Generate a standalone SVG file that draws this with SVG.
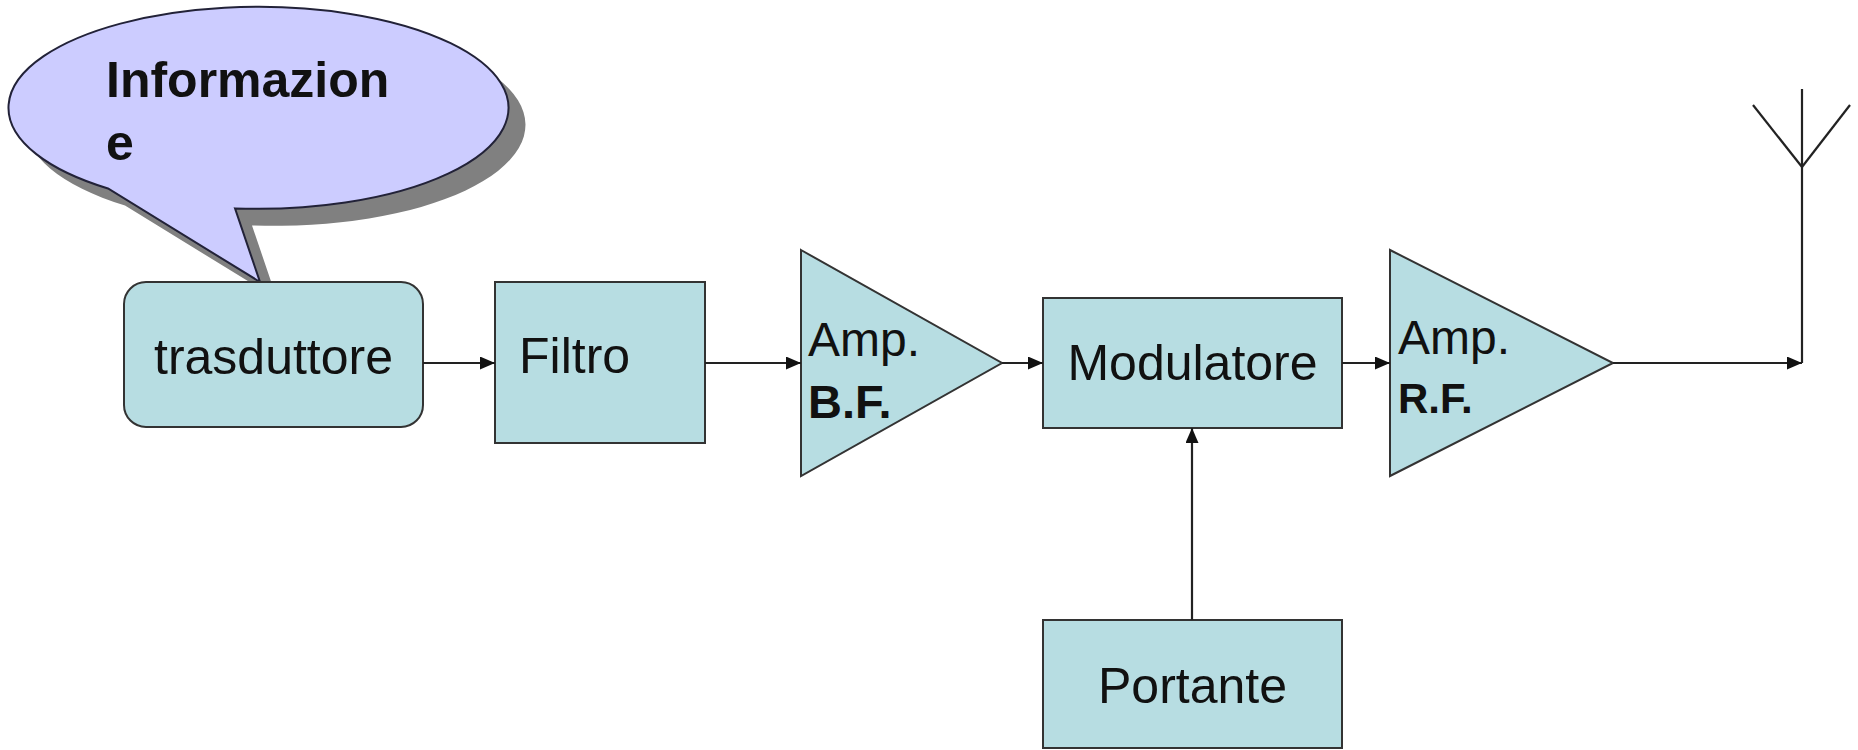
<svg xmlns="http://www.w3.org/2000/svg" width="1858" height="750" viewBox="0 0 1858 750">
<defs>
<style>
.box{fill:#B7DDE2;stroke:#333;stroke-width:2}
.t{font-family:"Liberation Sans",Arial,sans-serif;font-size:50px;fill:#111}
.b{font-family:"Liberation Sans",Arial,sans-serif;font-weight:bold;fill:#111}
.ln{stroke:#222;stroke-width:2.2;fill:none}
.arr{stroke:#222;stroke-width:2.2;fill:none;marker-end:url(#ah)}
</style>
<marker id="ah" viewBox="0 0 15 13" refX="15" refY="6.5" markerUnits="userSpaceOnUse" markerWidth="15" markerHeight="13" orient="auto">
<path d="M0,0 L15,6.5 L0,13 Z" fill="#111"/>
</marker>
</defs>
<rect width="1858" height="750" fill="#fff"/>
<g id="bubble">
<path d="M235,208.4 A250,101 0 1 0 108,188.5 L260,282 Z" fill="#808080" transform="translate(17,17)"/>
<path d="M235,208.4 A250,101 0 1 0 108,188.5 L260,282 Z" fill="#CCCCFF" stroke="#222238" stroke-width="2"/>
<text class="b" x="106" y="97" font-size="50">Informazion</text>
<text class="b" x="106" y="160" font-size="50">e</text>
</g>
<g id="trasduttore">
<rect class="box" x="124" y="282" width="299" height="145" rx="22"/>
<text class="t" x="273.5" y="374" text-anchor="middle">trasduttore</text>
</g>
<g id="filtro">
<rect class="box" x="495" y="282" width="210" height="161"/>
<text class="t" x="519" y="373">Filtro</text>
</g>
<g id="ampbf">
<polygon class="box" points="801,250 1002,363 801,476"/>
<text class="t" x="808" y="356" style="font-size:48px">Amp.</text>
<text class="b" x="808" y="418" style="font-size:47px">B.F.</text>
</g>
<g id="modulatore">
<rect class="box" x="1043" y="298" width="299" height="130"/>
<text class="t" x="1192.5" y="380" text-anchor="middle">Modulatore</text>
</g>
<g id="amprf">
<polygon class="box" points="1390,250 1613,363 1390,476"/>
<text class="t" x="1398" y="354" style="font-size:48px">Amp.</text>
<text class="b" x="1398" y="413" style="font-size:42px">R.F.</text>
</g>
<g id="portante">
<rect class="box" x="1043" y="620" width="299" height="128"/>
<text class="t" x="1192.5" y="703" text-anchor="middle">Portante</text>
</g>
<g id="antenna">
<line class="ln" x1="1802" y1="363" x2="1802" y2="89"/>
<line class="ln" x1="1802" y1="167" x2="1753" y2="105"/>
<line class="ln" x1="1802" y1="167" x2="1850" y2="105"/>
</g>
<g id="connectors">
<line class="arr" x1="423" y1="363" x2="495" y2="363"/>
<line class="arr" x1="705" y1="363" x2="801" y2="363"/>
<line class="arr" x1="1002" y1="363" x2="1043" y2="363"/>
<line class="arr" x1="1342" y1="363" x2="1390" y2="363"/>
<line class="arr" x1="1613" y1="363" x2="1802" y2="363"/>
<line class="arr" x1="1192" y1="620" x2="1192" y2="428"/>
</g>
</svg>
